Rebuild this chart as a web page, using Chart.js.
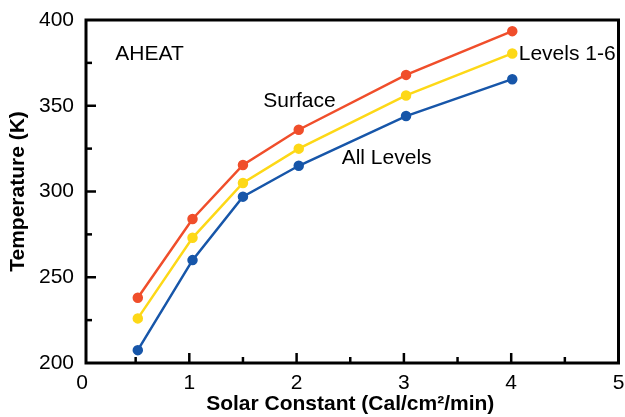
<!DOCTYPE html>
<html>
<head>
<meta charset="utf-8">
<script src="https://cdn.jsdelivr.net/npm/chart.js@4/dist/chart.umd.min.js"></script>
<style>
  html, body { margin: 0; padding: 0; background: #fff; }
  #wrap { width: 625px; height: 417px; }
</style>
</head>
<body>
<div id="wrap"><canvas id="chart"></canvas></div>
<script>
const solarConstant = [0.52, 1.03, 1.5, 2.02, 3.02, 4.01];
const surfaceTemp = [238, 284, 315.5, 336, 368, 393.5];
const levels16Temp = [226, 273, 305, 325, 356, 380.5];
const allLevelsTemp = [207.5, 260, 297, 315, 344, 365.5];

const labels = [
  { text: "AHEAT", x: 0.31, y: 380 },
  { text: "Surface", x: 1.69, y: 352.5 },
  { text: "All Levels", x: 2.42, y: 319.5 },
  { text: "Levels 1-6", x: 4.07, y: 380 }
];

const font = "Liberation Sans, Arial, sans-serif";

function series(xs, ys) {
  return xs.map((x, i) => ({ x, y: ys[i] }));
}

function lineSet(label, values, color) {
  return {
    label,
    data: series(solarConstant, values),
    borderColor: color,
    backgroundColor: color,
    borderWidth: 2.5,
    pointRadius: 4,
    pointHoverRadius: 4,
    tension: 0
  };
}

// box frame, inward ticks and text annotations
// (the left axis line sits a few px right of x = 0, as in the original figure)
const framePlugin = {
  id: "frame",
  afterDraw(chart) {
    const { ctx, chartArea: a, scales } = chart;
    const axisX = a.left + 4;
    ctx.save();
    ctx.strokeStyle = "#000";
    ctx.lineWidth = 3;
    ctx.strokeRect(axisX, a.top, a.right - axisX, a.bottom - a.top);

    ctx.lineWidth = 2.5;
    scales.x.ticks.forEach(t => {
      if (t.value <= 0 || t.value >= 5) return;
      const px = scales.x.getPixelForValue(t.value);
      const len = Number.isInteger(t.value) ? 10 : 6;
      ctx.beginPath();
      ctx.moveTo(px, a.bottom);
      ctx.lineTo(px, a.bottom - len);
      ctx.stroke();
    });
    scales.y.ticks.forEach(t => {
      if (t.value <= 200 || t.value >= 400) return;
      const py = scales.y.getPixelForValue(t.value);
      const len = t.value % 50 === 0 ? 10 : 6;
      ctx.beginPath();
      ctx.moveTo(axisX, py);
      ctx.lineTo(axisX + len, py);
      ctx.stroke();
    });

    ctx.fillStyle = "#000";
    ctx.font = `21px ${font}`;
    ctx.textAlign = "left";
    ctx.textBaseline = "middle";
    labels.forEach(l => {
      ctx.fillText(l.text, scales.x.getPixelForValue(l.x), scales.y.getPixelForValue(l.y));
    });
    ctx.restore();
  }
};

new Chart(document.getElementById("chart"), {
  type: "line",
  data: {
    datasets: [
      lineSet("All Levels", allLevelsTemp, "#1756a9"),
      lineSet("Levels 1-6", levels16Temp, "#fdd817"),
      lineSet("Surface", surfaceTemp, "#f04e2b")
    ]
  },
  options: {
    responsive: true,
    maintainAspectRatio: false,
    animation: false,
    layout: { padding: { top: 20, right: 3, left: 6, bottom: 0 } },
    plugins: {
      legend: { display: false },
      tooltip: { enabled: false }
    },
    scales: {
      x: {
        type: "linear",
        min: 0,
        max: 5,
        grid: { display: false, drawTicks: false },
        border: { display: false },
        ticks: {
          stepSize: 0.5,
          autoSkip: false,
          maxRotation: 0,
          padding: 8,
          color: "#000",
          font: { family: font, size: 21 },
          callback: value => Number.isInteger(value) ? value : ""
        },
        title: {
          display: true,
          text: "Solar Constant (Cal/cm²/min)",
          color: "#000",
          font: { family: font, size: 21, weight: "bold" },
          padding: { top: 1, bottom: 0 }
        },
        afterFit: scale => {
          scale.height = 54;
          scale.paddingRight = 0;
          scale.getPadding = () => ({ left: 0, top: 0, right: 0, bottom: 0 });
        }
      },
      y: {
        min: 200,
        max: 400,
        grid: { display: false, drawTicks: false },
        border: { display: false },
        ticks: {
          stepSize: 25,
          autoSkip: false,
          padding: 8,
          color: "#000",
          font: { family: font, size: 21 },
          callback: value => value % 50 === 0 ? value : ""
        },
        title: {
          display: true,
          text: "Temperature (K)",
          color: "#000",
          font: { family: font, size: 21, weight: "bold" },
          padding: { top: 0, bottom: 4 }
        },
        afterFit: scale => {
          scale.width = 76;
          scale.paddingTop = 0;
        }
      }
    }
  },
  plugins: [framePlugin]
});
</script>
</body>
</html>
